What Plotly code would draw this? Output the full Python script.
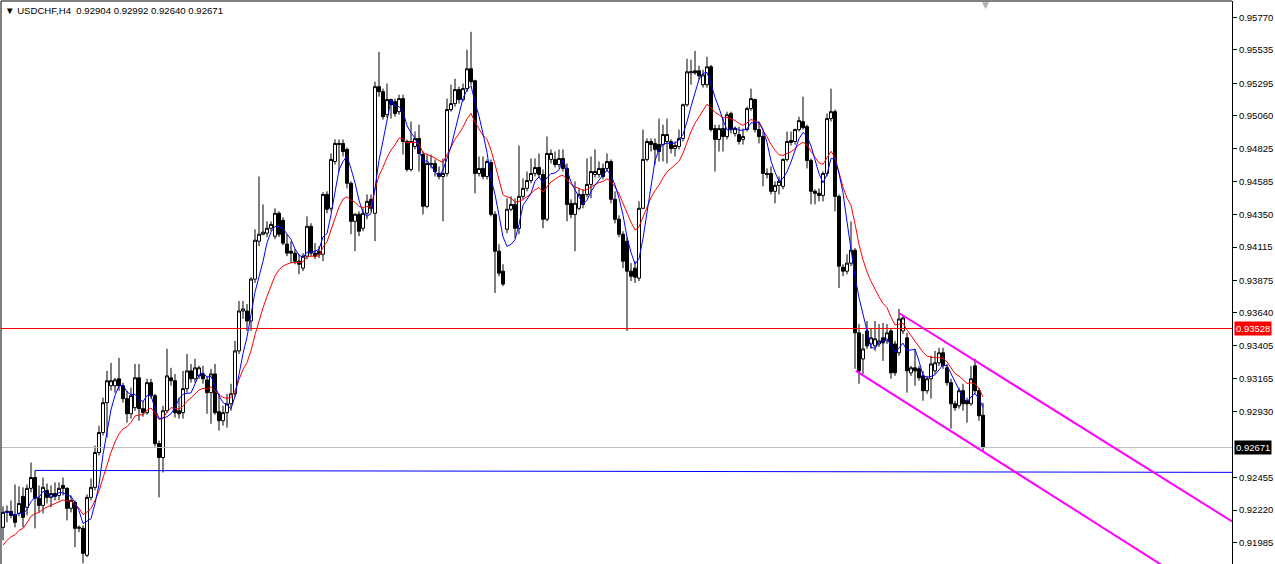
import plotly.graph_objects as go

# ---------------- data ----------------
symbol_label = "USDCHF,H4"
last_ohlc = [0.92904, 0.92992, 0.92640, 0.92671]

opens = [
    0.92096, 0.92204, 0.92211, 0.92189, 0.92196, 0.92319, 0.92240, 0.92377, 0.92455, 0.92305,
    0.92254, 0.92362, 0.92312, 0.92340, 0.92326, 0.92398, 0.92377, 0.92233, 0.92276, 0.92089,
    0.92089, 0.91895, 0.92312, 0.92384, 0.92635, 0.92779, 0.92994, 0.93116, 0.93116, 0.93166,
    0.93116, 0.93023, 0.92914, 0.92958, 0.93173, 0.92951, 0.92922, 0.93138, 0.93044, 0.92699,
    0.92599, 0.92936, 0.93173, 0.93152, 0.92936, 0.92922, 0.93095, 0.93223, 0.93166, 0.93187,
    0.93201, 0.93158, 0.93066, 0.93201, 0.92929, 0.92864, 0.92922, 0.92986, 0.93058, 0.93367,
    0.93654, 0.93654, 0.93582, 0.93884, 0.94157, 0.94207, 0.94215, 0.94250, 0.94193, 0.94358,
    0.94307, 0.94136, 0.94085, 0.94071, 0.94013, 0.93963, 0.94049, 0.94264, 0.94071, 0.94085,
    0.94063, 0.94494, 0.94394, 0.94731, 0.94853, 0.94861, 0.94818, 0.94574, 0.94300, 0.94351,
    0.94250, 0.94358, 0.94458, 0.94358, 0.95270, 0.95234, 0.95068, 0.95177, 0.95162, 0.95090,
    0.95184, 0.94875, 0.94674, 0.94839, 0.94897, 0.94781, 0.94408, 0.94717, 0.94717, 0.94645,
    0.94623, 0.94645, 0.95105, 0.95148, 0.95249, 0.95177, 0.95256, 0.95399, 0.95313, 0.94645,
    0.94681, 0.94623, 0.94724, 0.94350, 0.94085, 0.93941, 0.94243, 0.94387, 0.94422, 0.94250,
    0.94480, 0.94538, 0.94594, 0.94645, 0.94688, 0.94637, 0.94315, 0.94746, 0.94746, 0.94709,
    0.94753, 0.94681, 0.94430, 0.94350, 0.94394, 0.94494, 0.94494, 0.94566, 0.94637, 0.94637,
    0.94681, 0.94681, 0.94731, 0.94459, 0.94315, 0.94207, 0.94157, 0.93941, 0.93963, 0.93891,
    0.94394, 0.94746, 0.94875, 0.94861, 0.94853, 0.94853, 0.94875, 0.94875, 0.94825, 0.94839,
    0.94897, 0.95140, 0.95370, 0.95384, 0.95384, 0.95284, 0.95284, 0.95413, 0.94968, 0.94890,
    0.94968, 0.94911, 0.95076, 0.94933, 0.94925, 0.94890, 0.94961, 0.95112, 0.95177, 0.94961,
    0.94911, 0.94645, 0.94645, 0.94516, 0.94559, 0.94552, 0.94746, 0.94882, 0.94875, 0.94961,
    0.95018, 0.94982, 0.94738, 0.94516, 0.94502, 0.94487, 0.94645, 0.95040, 0.95090, 0.94480,
    0.93970, 0.93941, 0.93999, 0.94092, 0.93497, 0.93309, 0.93511, 0.93417, 0.93403, 0.93417,
    0.93461, 0.93439, 0.93511, 0.93417, 0.93353, 0.93511, 0.93461, 0.93209, 0.93245, 0.93238,
    0.93187, 0.93080, 0.93166, 0.93223, 0.93281, 0.93353, 0.93245, 0.93138, 0.92986, 0.92972,
    0.93080, 0.93008, 0.92986, 0.93259, 0.93080, 0.92904,
]

highs = [
    0.92247, 0.92254, 0.92290, 0.92405, 0.92391, 0.92384, 0.92405, 0.92563, 0.92505, 0.92398,
    0.92455, 0.92412, 0.92398, 0.92420, 0.92420, 0.92455, 0.92384, 0.92326, 0.92290, 0.92110,
    0.92110, 0.92333, 0.92448, 0.92685, 0.92828, 0.93030, 0.93223, 0.93281, 0.93173, 0.93317,
    0.93137, 0.93080, 0.93102, 0.93273, 0.93273, 0.93008, 0.93166, 0.93166, 0.93058, 0.92721,
    0.92972, 0.93382, 0.93245, 0.93201, 0.93030, 0.93223, 0.93345, 0.93273, 0.93310, 0.93259,
    0.93259, 0.93187, 0.93238, 0.93273, 0.93058, 0.92972, 0.93058, 0.93130, 0.93439, 0.93726,
    0.93726, 0.93704, 0.93898, 0.94243, 0.94623, 0.94422, 0.94300, 0.94300, 0.94394, 0.94372,
    0.94329, 0.94207, 0.94157, 0.94100, 0.94063, 0.94071, 0.94336, 0.94286, 0.94143, 0.94121,
    0.94509, 0.94516, 0.94789, 0.94890, 0.94890, 0.94890, 0.94832, 0.94588, 0.94358, 0.94372,
    0.94394, 0.94494, 0.94494, 0.95306, 0.95521, 0.95256, 0.95292, 0.95184, 0.95184, 0.95212,
    0.95212, 0.94890, 0.95018, 0.94947, 0.94996, 0.94803, 0.94781, 0.94781, 0.94746, 0.94695,
    0.94753, 0.95184, 0.95284, 0.95327, 0.95270, 0.95292, 0.95536, 0.95665, 0.95320, 0.94767,
    0.94767, 0.94746, 0.94746, 0.94372, 0.94135, 0.93991, 0.94466, 0.94480, 0.94466, 0.94846,
    0.94609, 0.94659, 0.94753, 0.94753, 0.94789, 0.94674, 0.94911, 0.94818, 0.94803, 0.94818,
    0.94818, 0.94717, 0.94459, 0.94588, 0.94538, 0.94531, 0.94753, 0.94767, 0.94818, 0.94731,
    0.94717, 0.94789, 0.94746, 0.94516, 0.94343, 0.94229, 0.94186, 0.93999, 0.94013, 0.94444,
    0.94961, 0.94897, 0.94897, 0.94897, 0.95040, 0.94996, 0.95040, 0.94890, 0.94875, 0.94961,
    0.95148, 0.95471, 0.95464, 0.95528, 0.95420, 0.95392, 0.95485, 0.95427, 0.94996, 0.94996,
    0.95040, 0.95090, 0.95090, 0.94982, 0.94982, 0.94968, 0.95126, 0.95256, 0.95184, 0.95018,
    0.94947, 0.94681, 0.94695, 0.94588, 0.94623, 0.94753, 0.94947, 0.94947, 0.94968, 0.95054,
    0.95198, 0.94996, 0.94753, 0.94531, 0.94538, 0.94659, 0.95076, 0.95256, 0.95105, 0.94494,
    0.93991, 0.94063, 0.94300, 0.94107, 0.93560, 0.93489, 0.93582, 0.93532, 0.93582, 0.93560,
    0.93568, 0.93560, 0.93532, 0.93439, 0.93669, 0.93618, 0.93497, 0.93259, 0.93382, 0.93259,
    0.93223, 0.93187, 0.93331, 0.93367, 0.93389, 0.93389, 0.93273, 0.93166, 0.93008, 0.93102,
    0.93130, 0.93030, 0.93259, 0.93310, 0.93102, 0.92992,
]

lows = [
    0.92003, 0.92132, 0.92161, 0.92096, 0.92175, 0.92096, 0.92182, 0.92348, 0.92089, 0.92204,
    0.92196, 0.92268, 0.92240, 0.92290, 0.92290, 0.92326, 0.92146, 0.92204, 0.91953, 0.92061,
    0.91837, 0.91881, 0.92290, 0.92362, 0.92613, 0.92757, 0.92743, 0.93080, 0.93066, 0.93080,
    0.92994, 0.92850, 0.92879, 0.92936, 0.92864, 0.92893, 0.92907, 0.93023, 0.92678, 0.92312,
    0.92491, 0.92922, 0.93116, 0.92886, 0.92879, 0.92879, 0.93066, 0.93138, 0.93138, 0.93166,
    0.93130, 0.92914, 0.92842, 0.92907, 0.92793, 0.92828, 0.92814, 0.92936, 0.93037, 0.93345,
    0.93597, 0.93511, 0.93511, 0.93856, 0.94121, 0.94200, 0.94186, 0.94229, 0.94172, 0.94186,
    0.94128, 0.94049, 0.93999, 0.93991, 0.93919, 0.93941, 0.94028, 0.94049, 0.94028, 0.94035,
    0.94013, 0.94358, 0.94372, 0.94709, 0.94659, 0.94767, 0.94537, 0.94207, 0.94085, 0.94193,
    0.94229, 0.94315, 0.94372, 0.94157, 0.95198, 0.95033, 0.95047, 0.95040, 0.95054, 0.95068,
    0.94781, 0.94659, 0.94659, 0.94818, 0.94659, 0.94350, 0.94394, 0.94681, 0.94623, 0.94602,
    0.94300, 0.94623, 0.95090, 0.95126, 0.95148, 0.95162, 0.95234, 0.95284, 0.94502, 0.94623,
    0.94602, 0.94602, 0.94336, 0.93784, 0.93905, 0.93834, 0.94215, 0.94372, 0.94179, 0.94207,
    0.94459, 0.94516, 0.94574, 0.94623, 0.94616, 0.94250, 0.94300, 0.94717, 0.94688, 0.94688,
    0.94659, 0.94300, 0.94322, 0.94085, 0.94379, 0.94394, 0.94473, 0.94466, 0.94616, 0.94616,
    0.94602, 0.94659, 0.94430, 0.94286, 0.94186, 0.93963, 0.93511, 0.93870, 0.93856, 0.93870,
    0.94387, 0.94731, 0.94803, 0.94709, 0.94731, 0.94731, 0.94717, 0.94789, 0.94767, 0.94818,
    0.94875, 0.95126, 0.95284, 0.95355, 0.95320, 0.95263, 0.95263, 0.94947, 0.94659, 0.94803,
    0.94803, 0.94890, 0.94933, 0.94911, 0.94853, 0.94853, 0.94947, 0.95097, 0.94940, 0.94861,
    0.94552, 0.94609, 0.94494, 0.94430, 0.94494, 0.94531, 0.94731, 0.94846, 0.94853, 0.94947,
    0.94961, 0.94681, 0.94422, 0.94422, 0.94444, 0.94444, 0.94623, 0.95018, 0.94372, 0.93820,
    0.93905, 0.93919, 0.93977, 0.93238, 0.93130, 0.93201, 0.93382, 0.93382, 0.93367, 0.93396,
    0.93295, 0.93417, 0.93166, 0.93187, 0.93331, 0.93489, 0.93066, 0.93187, 0.93116, 0.93152,
    0.93008, 0.93058, 0.93023, 0.93201, 0.93259, 0.93238, 0.93116, 0.92807, 0.92936, 0.92951,
    0.92936, 0.92850, 0.92972, 0.93058, 0.92864, 0.92640,
]

closes = [
    0.92204, 0.92211, 0.92182, 0.92132, 0.92268, 0.92168, 0.92377, 0.92455, 0.92305, 0.92254,
    0.92384, 0.92312, 0.92340, 0.92319, 0.92377, 0.92377, 0.92233, 0.92290, 0.92089, 0.92096,
    0.91909, 0.92312, 0.92384, 0.92635, 0.92779, 0.92994, 0.93152, 0.93152, 0.93158, 0.93116,
    0.93023, 0.92914, 0.93044, 0.93173, 0.92951, 0.92922, 0.93138, 0.93044, 0.92699, 0.92599,
    0.92936, 0.93187, 0.93152, 0.92922, 0.92914, 0.93095, 0.93223, 0.93166, 0.93245, 0.93245,
    0.93166, 0.93066, 0.93201, 0.92922, 0.92864, 0.92922, 0.92986, 0.93058, 0.93367, 0.93654,
    0.93669, 0.93582, 0.93884, 0.94164, 0.94207, 0.94222, 0.94250, 0.94278, 0.94358, 0.94207,
    0.94143, 0.94071, 0.94071, 0.94013, 0.93991, 0.94049, 0.94264, 0.94071, 0.94049, 0.94063,
    0.94494, 0.94387, 0.94746, 0.94861, 0.94861, 0.94803, 0.94574, 0.94300, 0.94351, 0.94229,
    0.94358, 0.94444, 0.94394, 0.95270, 0.95234, 0.95054, 0.95177, 0.95140, 0.95076, 0.95184,
    0.94875, 0.94674, 0.94875, 0.94897, 0.94789, 0.94408, 0.94717, 0.94709, 0.94659, 0.94623,
    0.94645, 0.95105, 0.95148, 0.95249, 0.95177, 0.95256, 0.95399, 0.95306, 0.94645, 0.94681,
    0.94623, 0.94731, 0.94350, 0.94085, 0.93927, 0.93848, 0.94387, 0.94422, 0.94250, 0.94480,
    0.94538, 0.94594, 0.94645, 0.94688, 0.94638, 0.94315, 0.94789, 0.94789, 0.94709, 0.94753,
    0.94681, 0.94422, 0.94350, 0.94430, 0.94494, 0.94422, 0.94566, 0.94659, 0.94659, 0.94681,
    0.94623, 0.94731, 0.94459, 0.94315, 0.94207, 0.94013, 0.93941, 0.93905, 0.93898, 0.94394,
    0.94746, 0.94875, 0.94853, 0.94818, 0.94803, 0.94925, 0.94925, 0.94825, 0.94846, 0.94897,
    0.95140, 0.95377, 0.95377, 0.95370, 0.95348, 0.95355, 0.95413, 0.94961, 0.94890, 0.94968,
    0.94911, 0.95068, 0.94961, 0.94968, 0.94875, 0.94911, 0.95112, 0.95184, 0.94961, 0.94911,
    0.94645, 0.94637, 0.94516, 0.94559, 0.94588, 0.94746, 0.94875, 0.94868, 0.94961, 0.95025,
    0.94975, 0.94738, 0.94516, 0.94502, 0.94487, 0.94645, 0.95040, 0.95090, 0.94480, 0.93977,
    0.93941, 0.93999, 0.94092, 0.93497, 0.93223, 0.93381, 0.93403, 0.93461, 0.93454, 0.93439,
    0.93425, 0.93497, 0.93209, 0.93209, 0.93597, 0.93604, 0.93223, 0.93245, 0.93223, 0.93173,
    0.93080, 0.93166, 0.93273, 0.93281, 0.93353, 0.93259, 0.93138, 0.92986, 0.92958, 0.93080,
    0.92986, 0.92986, 0.93166, 0.93080, 0.92900, 0.92671,
]

ytick_vals = [0.95770, 0.95535, 0.95295, 0.95060, 0.94825, 0.94585, 0.94350, 0.94115,
              0.93875, 0.93640, 0.93405, 0.93165, 0.92930, 0.92455, 0.92220, 0.91985]
ytick_text = ["%.5f" % v for v in ytick_vals]

resistance_level = 0.93528
bid_level = 0.92671

blue_trend_x = [8, 307.25]
blue_trend_y = [0.92506, 0.92492]
channel_upper_x = [224, 307.25]
channel_upper_y = [0.93640, 0.92139]
channel_lower_x = [213.25, 307.25]
channel_lower_y = [0.93223, 0.91503]

sma_period = 5
ema_period = 13
ema_seed = 0.91967

x_range = [-0.5, 307.25]
y_range = [0.91832, 0.95887]

# ---------------- indicators ----------------
idx = list(range(len(closes)))
sma = []
for i in idx:
    win = closes[max(0, i - sma_period + 1): i + 1]
    sma.append(sum(win) / len(win))
alpha = 2.0 / (ema_period + 1)
ema = []
prev = ema_seed
for i, c in enumerate(closes):
    val = ema_seed if i == 0 else prev + alpha * (c - prev)
    ema.append(val)
    prev = val

FONT = "Liberation Sans, Arial, sans-serif"

fig = go.Figure()

# horizontal price levels (drawn first, beneath the candles)
fig.add_trace(go.Scatter(x=x_range, y=[bid_level, bid_level], mode="lines",
                         line=dict(color="#C0C0C0", width=1), hoverinfo="skip"))
fig.add_trace(go.Scatter(x=x_range, y=[resistance_level, resistance_level], mode="lines",
                         line=dict(color="#FF0000", width=1), hoverinfo="skip"))

fig.add_trace(go.Candlestick(
    x=idx, open=opens, high=highs, low=lows, close=closes,
    increasing=dict(line=dict(color="black", width=1), fillcolor="white"),
    decreasing=dict(line=dict(color="black", width=1), fillcolor="black"),
    whiskerwidth=0, hoverinfo="skip", showlegend=False,
))
fig.add_trace(go.Scatter(x=idx, y=ema, mode="lines",
                         line=dict(color="#FF0000", width=1), hoverinfo="skip"))
fig.add_trace(go.Scatter(x=idx, y=sma, mode="lines",
                         line=dict(color="#0000FF", width=1), hoverinfo="skip"))
fig.add_trace(go.Scatter(x=blue_trend_x, y=blue_trend_y, mode="lines",
                         line=dict(color="#0000FF", width=1), hoverinfo="skip"))
fig.add_trace(go.Scatter(x=channel_upper_x, y=channel_upper_y, mode="lines",
                         line=dict(color="#FF00FF", width=2), hoverinfo="skip"))
fig.add_trace(go.Scatter(x=channel_lower_x, y=channel_lower_y, mode="lines",
                         line=dict(color="#FF00FF", width=2), hoverinfo="skip"))

shapes = [
    dict(type="line", xref="paper", yref="paper", x0=0, x1=0, y0=0, y1=1,
         line=dict(color="black", width=1)),
    dict(type="line", xref="paper", yref="paper", x0=0, x1=1, y0=1, y1=1,
         line=dict(color="black", width=1)),
]

title_text = "\u25BC " + symbol_label + "\u00a0\u00a0" + " ".join("%.5f" % v for v in last_ohlc)

annotations = [
    dict(xref="paper", yref="paper", x=0, y=1, xanchor="left", yanchor="top",
         xshift=2, yshift=-2, text=title_text, showarrow=False,
         font=dict(family=FONT, size=9.6, color="black")),
    dict(xref="paper", yref="y", x=1, y=resistance_level, xanchor="left", yanchor="middle",
         xshift=2, text="%.5f" % resistance_level, showarrow=False, bgcolor="#FF0000",
         borderpad=1, font=dict(family=FONT, size=9.5, color="white")),
    dict(xref="paper", yref="y", x=1, y=bid_level, xanchor="left", yanchor="middle",
         xshift=2, text="%.5f" % bid_level, showarrow=False, bgcolor="black",
         borderpad=1, font=dict(family=FONT, size=9.5, color="white")),
    dict(xref="x", yref="paper", x=len(closes) - 0.5, y=1, xanchor="center", yanchor="top",
         yshift=3, text="\u25BC", showarrow=False,
         font=dict(family="DejaVu Sans", size=9, color="#B0B0B0")),
]

fig.update_layout(
    width=1275, height=564,
    margin=dict(l=1, r=43, t=1, b=0, pad=0, autoexpand=False),
    paper_bgcolor="white", plot_bgcolor="white",
    showlegend=False, hovermode=False,
    boxgap=0.25, boxgroupgap=0,
    shapes=shapes, annotations=annotations,
    xaxis=dict(range=x_range, showticklabels=False, showgrid=False, zeroline=False,
               showline=False, ticks="", rangeslider=dict(visible=False), fixedrange=True),
    yaxis=dict(range=y_range, side="right", tickvals=ytick_vals, ticktext=ytick_text,
               ticks="outside", ticklen=4, tickcolor="black", tickwidth=1,
               showline=True, linecolor="black", linewidth=1,
               showgrid=False, zeroline=False, fixedrange=True,
               tickfont=dict(family=FONT, size=9.5, color="black")),
)

fig.write_html("out.html", config={"displayModeBar": False},
               post_script="document.body.style.margin='0px';document.body.style.overflow='hidden';")
